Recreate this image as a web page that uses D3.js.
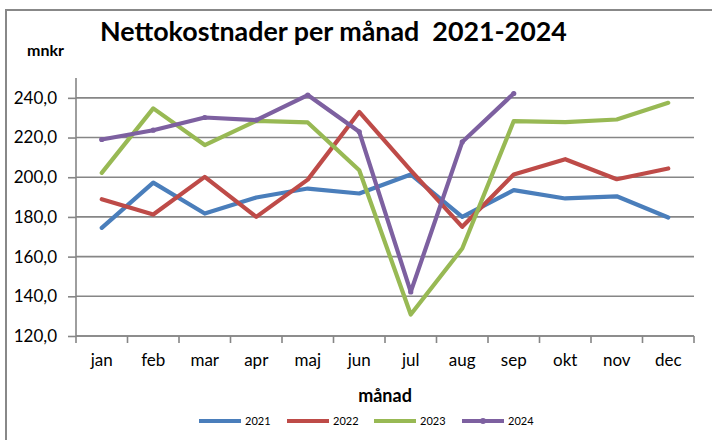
<!DOCTYPE html>
<html>
<head>
<meta charset="utf-8">
<script src="https://cdn.jsdelivr.net/npm/d3@7"></script>
<style>
  html, body { margin: 0; padding: 0; background: #fff; }
  svg { display: block; }
  text { font-family: Lato, "Open Sans", sans-serif; fill: #000; }
</style>
</head>
<body>
<div id="chart"></div>
<script>
const months = ["jan","feb","mar","apr","maj","jun","jul","aug","sep","okt","nov","dec"];
const yTicks = [120, 140, 160, 180, 200, 220, 240];
const v2021 = [174.5, 197.3, 181.7, 189.8, 194.3, 191.8, 201.4, 180.0, 193.5, 189.3, 190.4, 179.7];
const v2022 = [188.9, 181.2, 200.2, 180.0, 198.8, 232.9, 203.5, 175.0, 201.4, 209.1, 199.0, 204.4];
const v2023 = [202.2, 234.7, 216.2, 228.4, 227.6, 203.5, 130.8, 164.1, 228.3, 227.8, 229.1, 237.5];
const v2024 = [219.0, 223.7, 230.1, 228.8, 241.4, 222.9, 142.2, 217.8, 242.2];
const seriesNames = ["2021", "2022", "2023", "2024"];
const seriesColors = ["#4A7EBB", "#BE4B48", "#98B954", "#7D60A0"];
const title = "Nettokostnader per månad  2021-2024";
const yTitle = "mnkr";
const xTitle = "månad";

const W = 712, H = 440;
const m = { left: 76, right: 694, top: 78, bottom: 336 };

const svg = d3.select("#chart").append("svg").attr("width", W).attr("height", H);

// outer border (top + left visible)
svg.append("path")
  .attr("d", `M6,${H} L6,10 L${W},10`)
  .attr("fill", "none").attr("stroke", "#888").attr("stroke-width", 2);

const x = d3.scaleBand().domain(months).range([m.left, m.right]).padding(0);
const y = d3.scaleLinear().domain([120, 250]).range([m.bottom, m.top]);

// gridlines
svg.append("g").selectAll("line").data(yTicks).join("line")
  .attr("x1", m.left).attr("x2", m.right)
  .attr("y1", d => y(d)).attr("y2", d => y(d))
  .attr("stroke", "#868686").attr("stroke-width", 1.6);

// y axis
const yAxis = d3.axisLeft(y).tickValues(yTicks).tickSize(8).tickPadding(11)
  .tickFormat(d => d3.format(".1f")(d).replace(".", ","));
const gy = svg.append("g").attr("transform", `translate(${m.left},0)`).call(yAxis);
gy.select(".domain").attr("stroke", "#868686").attr("stroke-width", 1.6).attr("d", `M0,${m.top}V${m.bottom}`);
gy.selectAll(".tick line").attr("stroke", "#868686").attr("stroke-width", 1.6);
gy.selectAll(".tick text").attr("font-size", 17).attr("font-family", "Lato, sans-serif").attr("fill", "#000");

// x axis
const xAxis = d3.axisBottom(x).tickSize(0).tickPadding(18);
const gx = svg.append("g").attr("transform", `translate(0,${m.bottom})`).call(xAxis);
gx.select(".domain").attr("stroke", "#868686").attr("stroke-width", 1.6).attr("d", `M${m.left},0H${m.right}`);
gx.selectAll(".tick text").attr("font-size", 17).attr("font-family", "Lato, sans-serif").attr("fill", "#000");
// boundary ticks
const bounds = months.map(d => x(d)).concat([m.right]);
gx.append("g").selectAll("line").data(bounds).join("line")
  .attr("x1", d => d).attr("x2", d => d).attr("y1", 0).attr("y2", 7)
  .attr("stroke", "#868686").attr("stroke-width", 1.6);

// lines
const allSeries = [v2021, v2022, v2023, v2024];
const line = d3.line()
  .x((d, i) => x(months[i]) + x.bandwidth() / 2)
  .y(d => y(d));
allSeries.forEach((vals, si) => {
  svg.append("path").datum(vals)
    .attr("d", line)
    .attr("fill", "none")
    .attr("stroke", seriesColors[si])
    .attr("stroke-width", 4.2)
    .attr("stroke-linejoin", "round")
    .attr("stroke-linecap", "round");
});
// markers for 2024
svg.append("g").selectAll("circle").data(v2024).join("circle")
  .attr("cx", (d, i) => x(months[i]) + x.bandwidth() / 2)
  .attr("cy", d => y(d))
  .attr("r", 2.6)
  .attr("fill", seriesColors[3]);

// titles
const t = svg.append("text").attr("x", 100).attr("y", 41)
  .attr("font-size", 24).attr("font-weight", "bold")
  .attr("font-family", "'Open Sans', sans-serif")
  .style("white-space", "pre").attr("xml:space", "preserve")
  .text(title);
const tw = t.node().getComputedTextLength();
if (tw > 0) t.attr("font-size", Math.min(27, 24 * 467 / tw));
svg.append("text").attr("x", 27).attr("y", 56)
  .attr("font-size", 16).attr("font-weight", "bold").text(yTitle);
svg.append("text").attr("x", 385).attr("y", 402).attr("text-anchor", "middle")
  .attr("font-size", 18).attr("font-weight", "bold").text(xTitle);

// legend
const legX = [199, 287, 374, 462];
const lg = svg.append("g");
seriesNames.forEach((name, i) => {
  const g = lg.append("g").attr("transform", `translate(${legX[i]},421)`);
  g.append("line").attr("x1", 0).attr("x2", 42).attr("y1", 0).attr("y2", 0)
    .attr("stroke", seriesColors[i]).attr("stroke-width", 4);
  if (i === 3) g.append("circle").attr("cx", 21).attr("cy", 0).attr("r", 3).attr("fill", seriesColors[i]);
  g.append("text").attr("x", 46).attr("y", 4).attr("font-size", 11).text(name);
});
</script>
</body>
</html>
